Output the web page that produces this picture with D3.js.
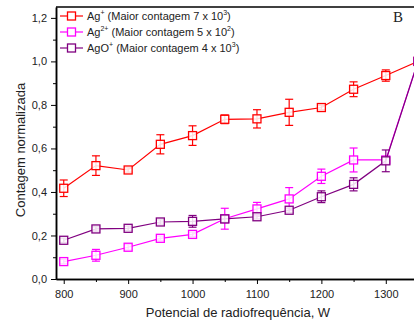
<!DOCTYPE html>
<html><head><meta charset="utf-8">
<script src="https://cdn.jsdelivr.net/npm/d3@7"></script>
<style>body{margin:0;background:#fff;}svg{display:block;font-family:"Liberation Sans",Arial,sans-serif;}</style>
</head><body>
<svg id="c" width="414" height="321"></svg>
<script>
const power = [800,850,900,950,1000,1050,1100,1150,1200,1250,1300,1350];
const agPlus = [0.417,0.521,0.501,0.619,0.659,0.734,0.736,0.766,0.788,0.872,0.935,1.0];
const agPlusErr = [0.038,0.045,0.01,0.044,0.045,0.02,0.042,0.06,0.01,0.034,0.026,0.0];
const ag2Plus = [0.080,0.109,0.146,0.187,0.205,0.277,0.322,0.368,0.472,0.547,0.547,1.0];
const ag2PlusErr = [0.01,0.027,0.012,0.01,0.01,0.048,0.03,0.052,0.033,0.055,0.01,0.12];
const agoPlus = [0.178,0.230,0.233,0.262,0.265,0.276,0.286,0.316,0.378,0.435,0.543,1.0];
const agoPlusErr = [0.01,0.01,0.01,0.01,0.027,0.015,0.01,0.01,0.027,0.03,0.05,0.0];
const yTicks = [0,0.2,0.4,0.6,0.8,1.0,1.2];
const xTicks = [800,900,1000,1100,1200,1300];
const seriesNames = [["Ag","+","7","3"],["Ag","2+","5","2"],["AgO","+","4","3"]];
const colors = ["#ff0000","#ff00ff","#800080"];

const svg = d3.select("#c");
const x = d3.scaleLinear().domain([788,1350]).range([56,418]);
const y = d3.scaleLinear().domain([0,1.25]).range([279,7]);

// top frame
svg.append("line").attr("x1",56).attr("x2",418).attr("y1",7).attr("y2",7).attr("stroke","#000").attr("stroke-width",1.5);

// axes
const fmt = d => d3.format(".1f")(d).replace(".",",");
const yAx = svg.append("g").attr("transform","translate(56,0)")
  .call(d3.axisLeft(y).tickValues(yTicks).tickFormat(fmt).tickSize(5).tickSizeOuter(0));
const yMinor = svg.append("g").attr("transform","translate(56,0)")
  .call(d3.axisLeft(y).tickValues([0.1,0.3,0.5,0.7,0.9,1.1]).tickFormat("").tickSize(3).tickSizeOuter(0));
const xAx = svg.append("g").attr("transform","translate(0,279)")
  .call(d3.axisBottom(x).tickValues(xTicks).tickFormat(d3.format("d")).tickSize(5).tickSizeOuter(0));
const xMinor = svg.append("g").attr("transform","translate(0,279)")
  .call(d3.axisBottom(x).tickValues([850,950,1050,1150,1250,1350]).tickFormat("").tickSize(3).tickSizeOuter(0));
[yAx,yMinor,xAx,xMinor].forEach(g=>{
  g.select(".domain").attr("stroke-width",1.5);
  g.selectAll(".tick line").attr("stroke-width",1);
  g.selectAll("text").attr("font-size",11).attr("fill","#222").attr("font-family","Liberation Sans, Arial, sans-serif");
});
xAx.selectAll("text").attr("dy","1.0em");
yAx.selectAll("text").attr("dx","-1");

// axis titles
svg.append("text").attr("x",238).attr("y",317).attr("text-anchor","middle").attr("font-size",13).attr("fill","#222")
  .text("Potencial de radiofrequência, W");
svg.append("text").attr("transform","translate(25,150) rotate(-90)").attr("text-anchor","middle").attr("font-size",13).attr("fill","#222")
  .text("Contagem normalizada");

// series
const data = [[agPlus,agPlusErr],[ag2Plus,ag2PlusErr],[agoPlus,agoPlusErr]];
const line = d3.line().x((d,i)=>x(power[i])).y(d=>y(d));
const plot = svg.append("g");
data.forEach(([vals,errs],k)=>{
  const g = plot.append("g");
  const c = colors[k];
  g.append("path").attr("d",line(vals)).attr("fill","none").attr("stroke",c).attr("stroke-width",1.2);
  vals.forEach((v,i)=>{
    const e = errs[i], cx = x(power[i]);
    if (e>0){
      g.append("line").attr("x1",cx).attr("x2",cx).attr("y1",y(v+e)).attr("y2",y(v-e)).attr("stroke",c).attr("stroke-width",1.2);
      [v+e,v-e].forEach(t=>g.append("line").attr("x1",cx-4).attr("x2",cx+4).attr("y1",y(t)).attr("y2",y(t)).attr("stroke",c).attr("stroke-width",1.2));
    }
    g.append("rect").attr("x",cx-4).attr("y",y(v)-4).attr("width",8).attr("height",8)
      .attr("fill","#fff").attr("fill-opacity",0.85).attr("stroke",c).attr("stroke-width",1.3);
  });
});

// legend
const leg = svg.append("g");
seriesNames.forEach((n,k)=>{
  const ly = 16 + k*16;
  leg.append("line").attr("x1",60).attr("x2",83).attr("y1",ly).attr("y2",ly).attr("stroke",colors[k]).attr("stroke-width",1.2);
  leg.append("rect").attr("x",67.5).attr("y",ly-4).attr("width",8).attr("height",8).attr("fill","#fff").attr("stroke",colors[k]).attr("stroke-width",1.3);
  const t = leg.append("text").attr("x",87).attr("y",ly+4).attr("font-size",11).attr("fill","#222");
  t.append("tspan").text(n[0]);
  t.append("tspan").attr("font-size",7).attr("dy",-5).text(n[1]);
  t.append("tspan").attr("dy",5).text(" (Maior contagem "+n[2]+" x 10");
  t.append("tspan").attr("font-size",7).attr("dy",-5).text(n[3]);
  t.append("tspan").attr("dy",5).text(")");
});

// panel label
svg.append("text").attr("x",398).attr("y",22).attr("text-anchor","middle").attr("font-size",15)
  .attr("font-family","Liberation Serif, Times New Roman, serif").attr("fill","#222").text("B");
</script>
</body></html>
